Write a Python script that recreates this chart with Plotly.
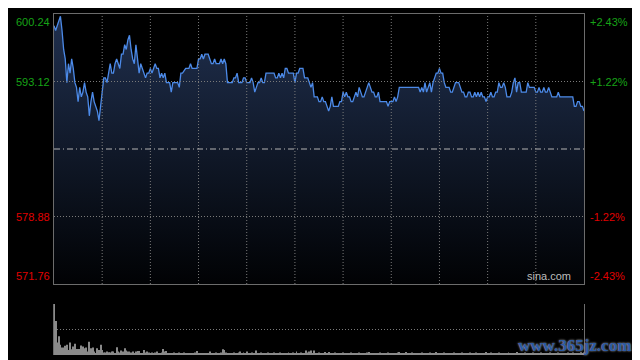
import plotly.graph_objects as go

# ---------------- data ----------------
minutes = [0, 1, 2, 4, 5, 6, 7, 8, 9, 10,
           11, 12, 13, 14, 15, 16, 17, 18, 19, 20,
           21, 22, 23, 24, 25, 27, 28, 29, 30, 31,
           32, 33, 34, 35, 36, 37, 38, 39, 40, 41,
           42, 43, 44, 45, 46, 47, 48, 49, 50, 51,
           52, 53, 54, 55, 57, 58, 59, 60, 61, 62,
           63, 64, 65, 66, 67, 68, 69, 70, 72, 73,
           74, 75, 77, 78, 79, 80, 82, 84, 85, 86,
           89, 90, 91, 92, 93, 94, 96, 97, 98, 99,
           100, 101, 103, 104, 105, 106, 107, 108, 111, 112,
           113, 114, 115, 117, 118, 119, 120, 122, 123, 124,
           125, 126, 127, 128, 129, 130, 131, 132, 134, 137,
           138, 139, 140, 141, 142, 143, 144, 145, 146, 149,
           150, 151, 152, 153, 155, 156, 158, 159, 160, 161,
           162, 164, 165, 166, 167, 168, 169, 170, 171, 172,
           173, 174, 176, 177, 178, 179, 180, 181, 182, 183,
           184, 185, 186, 187, 188, 189, 190, 191, 192, 193,
           195, 196, 197, 198, 199, 200, 201, 202, 203, 204,
           206, 207, 208, 209, 210, 211, 212, 213, 214, 215,
           227, 228, 229, 230, 231, 232, 233, 234, 235, 236,
           237, 238, 239, 240, 241, 242, 243, 244, 246, 247,
           248, 249, 250, 252, 253, 254, 255, 256, 257, 258,
           259, 260, 261, 262, 263, 264, 265, 266, 267, 268,
           269, 270, 271, 272, 273, 274, 275, 276, 277, 278,
           279, 280, 281, 282, 284, 285, 286, 287, 288, 289,
           290, 291, 293, 294, 295, 296, 299, 300, 301, 302,
           303, 304, 305, 306, 307, 308, 309, 310, 313, 314,
           315, 318, 323, 324, 325, 326, 327, 328, 329, 330]

prices = [599.0, 598.5, 599.0, 600.0, 598.5, 596.5, 595.5, 593.0, 595.0, 594.0,
          595.5, 594.5, 593.0, 592.5, 591.0, 592.5, 591.5, 592.0, 593.0, 592.0,
          591.5, 589.5, 591.0, 592.0, 591.0, 590.0, 589.0, 590.5, 591.5, 593.5,
          593.5, 593.0, 594.0, 595.0, 594.0, 594.0, 595.0, 595.5, 595.0, 594.5,
          596.0, 596.0, 597.0, 596.5, 597.5, 598.0, 596.5, 595.5, 595.0, 597.0,
          595.5, 594.0, 595.0, 594.5, 593.5, 594.0, 594.0, 594.5, 594.0, 594.5,
          595.0, 594.5, 594.5, 593.5, 594.0, 593.5, 594.0, 593.0, 593.0, 592.0,
          593.0, 593.0, 593.0, 592.5, 594.0, 594.0, 594.5, 594.5, 595.0, 594.5,
          594.5, 595.5, 595.5, 596.0, 595.5, 596.0, 596.0, 595.5, 595.0, 595.0,
          595.5, 595.0, 595.0, 595.5, 595.0, 595.5, 595.0, 593.0, 593.0, 593.5,
          593.5, 594.0, 593.0, 593.0, 593.5, 593.5, 593.0, 593.0, 593.5, 593.0,
          592.0, 592.5, 593.0, 593.0, 593.5, 593.0, 593.0, 594.0, 594.0, 594.0,
          593.5, 593.5, 594.0, 593.5, 594.0, 593.5, 594.5, 594.5, 594.0, 594.0,
          593.0, 594.0, 594.0, 594.5, 594.5, 593.5, 593.5, 593.0, 592.5, 593.0,
          591.5, 591.5, 591.0, 591.0, 591.5, 591.0, 591.0, 590.5, 590.0, 590.5,
          591.5, 590.5, 590.5, 590.5, 591.0, 591.0, 592.0, 591.5, 592.0, 591.5,
          591.5, 591.0, 591.0, 591.5, 592.0, 591.5, 592.5, 592.0, 591.5, 591.5,
          592.5, 593.0, 592.5, 592.0, 592.0, 591.5, 591.5, 592.0, 591.0, 591.0,
          591.0, 591.0, 590.5, 591.0, 591.0, 591.0, 591.5, 591.0, 591.5, 592.5,
          592.5, 592.0, 592.5, 592.0, 593.0, 592.0, 592.5, 593.0, 592.0, 593.0,
          593.5, 594.0, 594.0, 594.5, 594.0, 594.0, 593.0, 592.5, 592.5, 592.0,
          592.0, 592.5, 593.0, 593.0, 592.5, 592.0, 592.0, 591.5, 591.5, 592.0,
          592.0, 591.5, 591.5, 592.0, 591.5, 592.0, 591.5, 592.0, 591.5, 591.5,
          591.0, 591.5, 591.5, 592.0, 591.5, 591.5, 592.0, 592.0, 593.0, 592.5,
          592.5, 593.0, 592.5, 591.5, 591.5, 592.0, 593.0, 593.5, 592.0, 593.0,
          593.0, 592.0, 592.0, 592.0, 593.0, 592.5, 592.5, 592.0, 592.0, 592.5,
          592.0, 592.0, 592.5, 592.0, 592.0, 592.5, 592.0, 591.5, 591.5, 592.0,
          591.5, 591.5, 591.5, 590.5, 590.5, 591.0, 591.0, 590.5, 590.5, 590.0]

volumes = [150, 100, 37, 55, 30, 22, 22, 27, 30, 15,
           37, 17, 25, 33, 18, 18, 18, 28, 25, 20,
           22, 10, 39, 20, 22, 10, 5, 20, 15, 30,
           15, 7,
           7, 10, 8, 7, 10, 10, 5, 23, 10, 7,
           13, 10, 20, 13, 10, 10, 7, 10, 5, 10,
           12, 12, 5, 3, 15, 7, 10, 7, 5, 7,
           3, 7, 10, 3, 5, 7, 18, 10, 12, 3,
           5, 3, 5, 7, 5, 3, 7, 5, 3, 7,
           5, 3, 5, 3, 5, 3, 7, 12, 3, 3,
           3, 5, 3, 3, 5, 10, 5, 5, 3, 7,
           3, 3, 7, 17, 15, 7, 5, 5, 3, 3,
           7, 3, 5, 7, 10, 5, 7, 3, 10,
           5, 3, 7, 5, 3, 13, 5, 3, 7, 5,
           3, 5, 7, 3, 5, 3, 7, 5, 3, 5,
           7, 3, 5, 3, 5, 7, 3, 5, 7, 3,
           10, 5, 3, 7, 5, 3, 13, 7, 10, 13,
           5, 13, 3, 5, 7, 3, 5, 3, 9, 5,
           9, 3, 5, 3, 7, 5, 3, 5, 3, 7,
           3, 5, 3, 5, 7, 3, 5, 3, 5, 7,
           3, 5, 3, 5, 7, 9, 3, 5, 3, 5,
           3, 5, 7, 3, 5, 3, 5, 7, 3, 5,
           3, 5, 3, 7, 9, 5, 3, 5, 9, 3,
           5, 3, 7, 3, 5, 3, 5, 3, 7, 5,
           3, 5, 3, 7, 5, 3, 5, 9, 3, 5,
           3, 5, 7, 3, 5, 3, 5, 3, 7, 3,
           5, 3, 5, 7, 3, 5, 3, 5, 7, 3,
           5, 3, 7, 3, 5, 3, 5, 3, 9, 5,
           3, 7, 3, 5, 3, 5, 7, 3, 5, 3,
           5, 3, 7, 5, 3, 5, 3, 9, 5, 3,
           5, 3, 7, 3, 5, 3, 5, 7, 3, 5,
           3, 5, 7, 3, 5, 3, 5, 3, 7, 5,
           3, 5, 3, 7, 5, 3, 5, 3, 5, 7,
           3, 5, 7, 3, 5, 3, 5, 8, 5, 7]

prev_close = 586.0
price_ticks = [600.24, 593.12, 578.88, 571.76]
price_labels = ["600.24", "593.12", "578.88", "571.76"]
pct_labels = ["+2.43%", "+1.22%", "-1.22%", "-2.43%"]
time_ticks = [30, 60, 90, 120, 150, 180, 210, 240, 270, 300]
session_len = 330
vol_ticks = [75, 150]

# ---------------- styling ----------------
UP = "#17a317"
DOWN = "#e00000"
GRID = "#7a7a7a"
FRAME = "#6c6c6c"
FONT = "Arial, Liberation Sans, sans-serif"

ymin, ymax = min(price_ticks), max(price_ticks)

fig = go.Figure()
fig.add_trace(go.Scatter(x=minutes, y=[ymin] * len(minutes), mode="lines",
                         line=dict(width=0), hoverinfo="skip",
                         xaxis="x", yaxis="y"))
fig.add_trace(go.Scatter(x=minutes, y=prices, mode="lines",
                         line=dict(color="#4c8ae8", width=1.3),
                         fill="tonexty",
                         fillgradient=dict(type="vertical",
                                           colorscale=[[0, "#010204"], [1, "#20304f"]],
                                           start=ymin, stop=ymax),
                         xaxis="x", yaxis="y"))
fig.add_trace(go.Bar(x=list(range(len(volumes))), y=volumes,
                     marker=dict(color="#8a8a8a", line=dict(width=0)),
                     width=0.6, xaxis="x2", yaxis="y2"))

shapes = []
for t in time_ticks:
    shapes.append(dict(type="line", xref="x", yref="y domain", x0=t, x1=t, y0=0, y1=1,
                       line=dict(color=GRID, width=1, dash="1px,2px"), layer="above"))
for v in price_ticks[1:-1]:
    shapes.append(dict(type="line", xref="x domain", yref="y", x0=0, x1=1, y0=v, y1=v,
                       line=dict(color=GRID, width=1, dash="1px,2px"), layer="above"))
shapes.append(dict(type="line", xref="x domain", yref="y", x0=0, x1=1,
                   y0=prev_close, y1=prev_close,
                   line=dict(color="#b4b4b4", width=1, dash="6px,3px,1px,3px"), layer="above"))

annotations = []
n = len(price_ticks)
for i, (v, lab, pct) in enumerate(zip(price_ticks, price_labels, pct_labels)):
    col = UP if v > prev_close else DOWN
    ya = "top" if i == 0 else ("bottom" if i == n - 1 else "middle")
    annotations.append(dict(xref="paper", yref="y", x=0, y=v, text=lab, showarrow=False,
                            xanchor="right", yanchor=ya, xshift=-2,
                            font=dict(family=FONT, size=11, color=col)))
    annotations.append(dict(xref="paper", yref="y", x=1, y=v, text=pct, showarrow=False,
                            xanchor="left", yanchor=ya, xshift=4,
                            font=dict(family=FONT, size=11, color=col)))
annotations.append(dict(xref="x domain", yref="y domain", x=0.98, y=0, yshift=0,
                        text="sina.com", showarrow=False, xanchor="right", yanchor="bottom",
                        font=dict(family=FONT, size=11, color="#bdbdbd")))
annotations.append(dict(xref="paper", yref="paper", x=0.983, y=0.028,
                        text="<b>www.365jz.com</b>", showarrow=False,
                        xanchor="center", yanchor="middle",
                        font=dict(family="Liberation Serif, DejaVu Serif, serif", size=17,
                                  color="#2a5aa6", shadow="0px 0px 2px #d0d0d0")))

# the page body adds an 8px offset, so margins are set 8px smaller on left/top
fig.update_layout(
    width=640, height=360,
    margin=dict(l=46, r=64, t=6, b=13),
    paper_bgcolor="black", plot_bgcolor="black",
    showlegend=False, hovermode=False,
    xaxis=dict(domain=[0, 1], range=[0, session_len], anchor="y",
               showgrid=False, showticklabels=False, zeroline=False, ticks="",
               showline=True, linecolor=FRAME, linewidth=1, mirror=True),
    yaxis=dict(domain=[71 / 341, 1], range=[ymin, ymax], anchor="x",
               showgrid=False, showticklabels=False, zeroline=False, ticks="",
               showline=True, linecolor=FRAME, linewidth=1, mirror=True),
    xaxis2=dict(domain=[0, 1], range=[0, session_len], anchor="y2",
                showgrid=False, showticklabels=False, zeroline=False, ticks="",
                showline=False),
    yaxis2=dict(domain=[0, 51 / 341], range=[0, max(vol_ticks)], anchor="x2",
                tickvals=vol_ticks, showgrid=True, gridcolor=GRID, griddash="1px,2px",
                gridwidth=1, showticklabels=False, zeroline=False, ticks="",
                showline=True, linecolor=FRAME, linewidth=1, mirror=True),
    shapes=shapes,
    annotations=annotations,
)

fig.write_html("out.html")
